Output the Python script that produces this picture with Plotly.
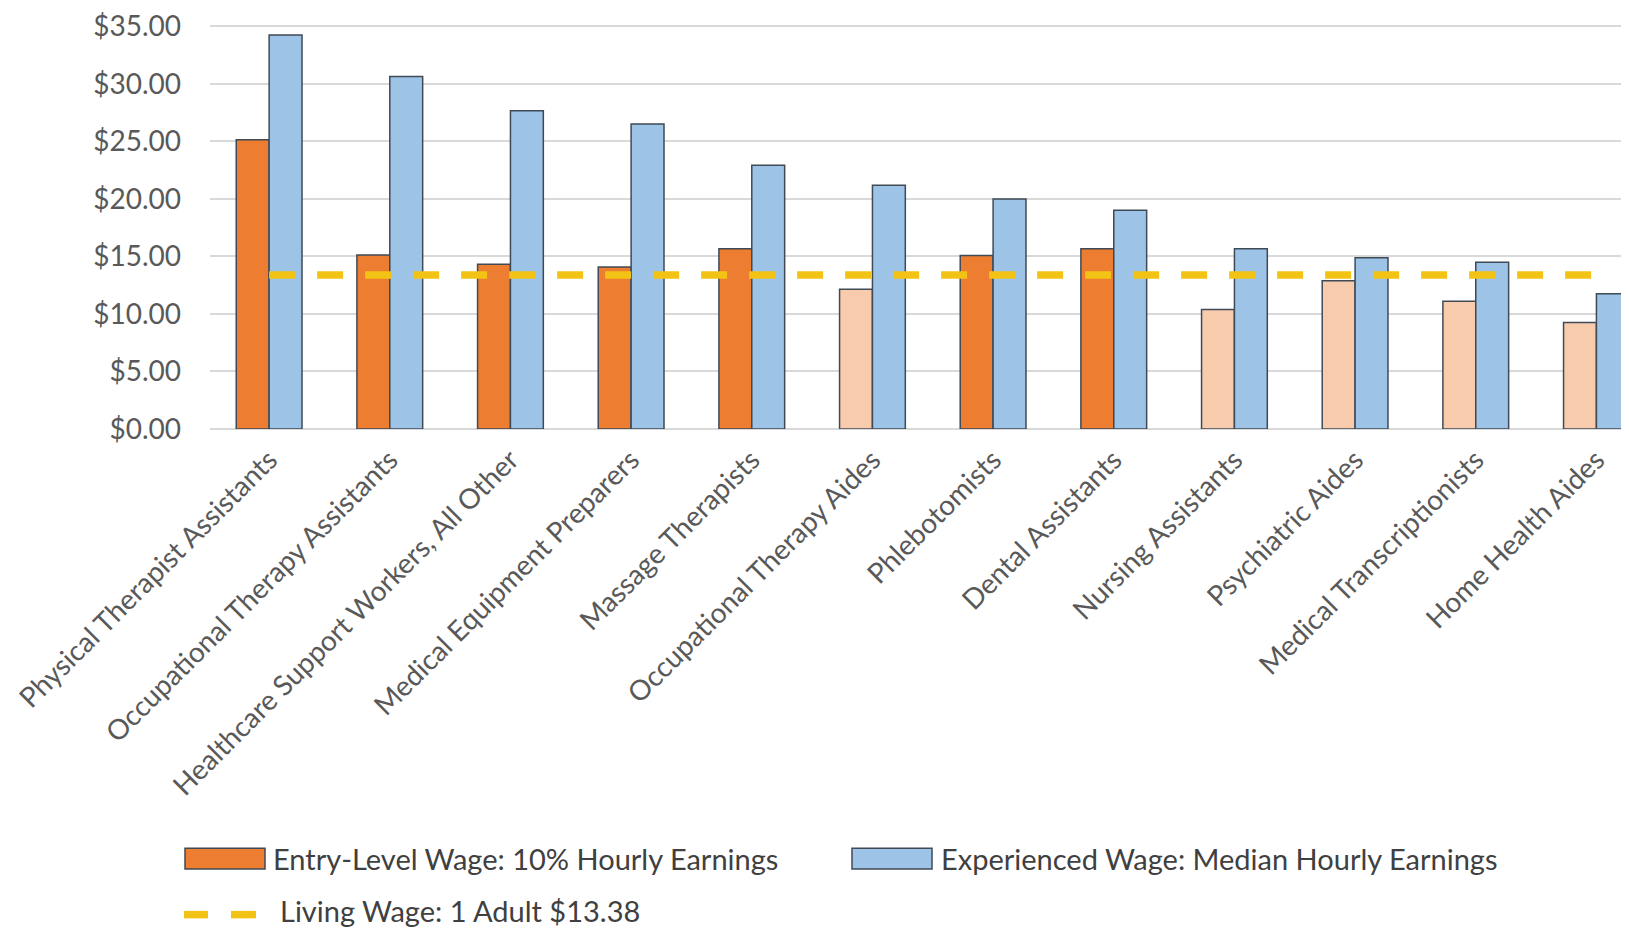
import plotly.graph_objects as go

categories = [
    "Physical Therapist Assistants",
    "Occupational Therapy Assistants",
    "Healthcare Support Workers, All Other",
    "Medical Equipment Preparers",
    "Massage Therapists",
    "Occupational Therapy Aides",
    "Phlebotomists",
    "Dental Assistants",
    "Nursing Assistants",
    "Psychiatric Aides",
    "Medical Transcriptionists",
    "Home Health Aides",
]
entry_wage = [25.14, 15.12, 14.32, 14.09, 15.67, 12.14, 15.09, 15.67, 10.40, 12.89, 11.11, 9.25]
experienced_wage = [34.25, 30.64, 27.67, 26.52, 22.94, 21.19, 19.99, 19.02, 15.67, 14.89, 14.49, 11.77]
living_wage = 13.38
y_tick_values = [0, 5, 10, 15, 20, 25, 30, 35]
y_tick_labels = ["$0.00", "$5.00", "$10.00", "$15.00", "$20.00", "$25.00", "$30.00", "$35.00"]

# page body has an 8px default margin, so the figure is laid out 8px up/left
OFF = 8
W, H = 1629 - OFF, 934 - OFF
L, R, T, B = 210 - OFF, 0, 10.5, 505
Y_TOP = 35.3

ORANGE = "#ED7D31"
PEACH = "#F8CBAD"
BLUE = "#9DC3E6"
EDGE = "#3F4A57"
GOLD = "#F2C314"
TXT = "#595959"
FONT = "Lato, Open Sans, sans-serif"

entry_colors = [ORANGE if v >= living_wage else PEACH for v in entry_wage]

fig = go.Figure()
fig.add_trace(go.Bar(
    x=categories, y=entry_wage, name="Entry-Level Wage: 10% Hourly Earnings",
    marker=dict(color=entry_colors, line=dict(color=EDGE, width=1.5)),
    showlegend=False,
))
fig.add_trace(go.Bar(
    x=categories, y=experienced_wage, name="Experienced Wage: Median Hourly Earnings",
    marker=dict(color=BLUE, line=dict(color=EDGE, width=1.5)),
    showlegend=False,
))
fig.add_trace(go.Scatter(
    x=categories, y=[living_wage] * len(categories), mode="lines",
    name="Living Wage: 1 Adult $13.38",
    line=dict(color=GOLD, width=7.5, dash="26px,22px"),
    showlegend=False,
))

pw = W - L - R
ph = H - T - B


def px_x(x):
    # x given in screenshot pixels
    return (x - OFF - L) / pw


def px_y(y):
    # y given in screenshot pixels
    return (H - B - (y - OFF)) / ph


LEG_FONT = dict(family=FONT, size=29, color="#404040")
shapes = []
annotations = []
# legend row 1
shapes.append(dict(type="rect", xref="paper", yref="paper",
                   x0=px_x(185), x1=px_x(265), y0=px_y(874), y1=px_y(853),
                   fillcolor=ORANGE, line=dict(color=EDGE, width=1.5)))
annotations.append(dict(xref="paper", yref="paper", x=px_x(271), y=px_y(863),
                        text="Entry-Level Wage: 10% Hourly Earnings", showarrow=False,
                        xanchor="left", yanchor="middle", font=LEG_FONT))
shapes.append(dict(type="rect", xref="paper", yref="paper",
                   x0=px_x(852), x1=px_x(932), y0=px_y(874), y1=px_y(853),
                   fillcolor=BLUE, line=dict(color=EDGE, width=1.5)))
annotations.append(dict(xref="paper", yref="paper", x=px_x(939), y=px_y(863),
                        text="Experienced Wage: Median Hourly Earnings", showarrow=False,
                        xanchor="left", yanchor="middle", font=LEG_FONT))
# legend row 2
for a, b in [(184, 208), (231, 256)]:
    shapes.append(dict(type="line", xref="paper", yref="paper",
                       x0=px_x(a), x1=px_x(b), y0=px_y(920), y1=px_y(920),
                       line=dict(color=GOLD, width=7.5)))
annotations.append(dict(xref="paper", yref="paper", x=px_x(278), y=px_y(916),
                        text="Living Wage: 1 Adult $13.38", showarrow=False,
                        xanchor="left", yanchor="middle", font=LEG_FONT))

fig.update_layout(
    width=W, height=H,
    margin=dict(l=L, r=R, t=T, b=B, pad=0),
    paper_bgcolor="white", plot_bgcolor="white",
    barmode="group", bargap=0.455, bargroupgap=0,
    font=dict(family=FONT, color=TXT),
    shapes=shapes, annotations=annotations,
    showlegend=False,
)
fig.update_xaxes(
    range=[-0.49, 11.27], tickangle=-45, showgrid=False, showline=False,
    tickfont=dict(family=FONT, size=28, color=TXT), ticks="", ticklabelstandoff=8,
)
fig.update_yaxes(
    range=[0, Y_TOP], tickmode="array", tickvals=y_tick_values, ticktext=y_tick_labels,
    ticklabeloverflow="allow",
    showgrid=True, gridcolor="#D9D9D9", gridwidth=1.5,
    zeroline=True, zerolinecolor="#D9D9D9", zerolinewidth=1.5,
    tickfont=dict(family=FONT, size=28, color=TXT), ticklabelstandoff=28,
)

fig.write_html("out.html")
